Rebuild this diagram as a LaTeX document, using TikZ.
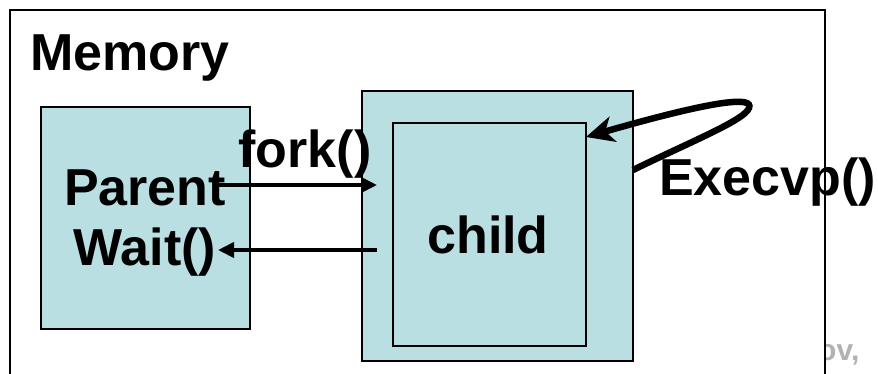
\documentclass[tikz,border=0pt]{standalone}
\usepackage{fontspec}
\setmainfont{Liberation Sans}
\usetikzlibrary{arrows.meta}
\definecolor{boxfill}{HTML}{B9DFE2}
\begin{document}
\begin{tikzpicture}[x=1pt,y=-1pt,
  box/.style={draw=black,line width=1.8pt,fill=boxfill},
  lbl/.style={font=\fontsize{52}{56}\selectfont\bfseries,inner sep=0pt,anchor=base},
  arr/.style={line width=3.8pt,-{Triangle[length=16pt,width=15pt]}}]
\useasboundingbox (0,0) rectangle (878,373);
\begin{scope}
\clip (0,0) rectangle (878,373);
\draw[line width=2pt] (10,10) rectangle (825,400);
\end{scope}
\node[lbl,anchor=base west] (mem) at (30,70) {Memory};
\node[box,minimum width=209pt,minimum height=222pt,anchor=north west,inner sep=0pt] (parent) at (40,106) {};
\node[box,minimum width=271pt,minimum height=270pt,anchor=north west,inner sep=0pt] (outer) at (361,90) {};
\node[box,minimum width=193pt,minimum height=223pt,anchor=north west,inner sep=0pt] (inner) at (392,122) {};
\node[lbl] (ptxt) at (145,205) {Parent};
\node[lbl] (wtxt) at (145,265) {Wait()};
\node[lbl] (ctxt) at (488,253) {child};
\node[lbl] (ftxt) at (305,167) {fork()};
\node[lbl,anchor=base west] (etxt) at (659,195) {Execvp()};
\begin{scope}
\clip (826,0) rectangle (878,373);
\node[font=\fontsize{30}{32}\selectfont\bfseries,text=black!30,anchor=base west,inner sep=0pt] (ov) at (818,360) {ov,};
\end{scope}
\coordinate (fs) at (218,185);
\coordinate (fe) at (377,185);
\coordinate (ws) at (377,250);
\coordinate (we) at (218,250);
\draw[arr] (fs) -- (fe);
\draw[arr] (ws) -- (we);
\coordinate (es) at (633,170);
\coordinate (ep) at (749,108);
\coordinate (ee) at (586,137);
\draw[line width=6.5pt,-{Stealth[length=28pt,width=26pt,inset=8pt]}] (es) .. controls (690,142) and (745,120) .. (ep) .. controls (754,96) and (715,100) .. (ee);
\end{tikzpicture}
\end{document}
